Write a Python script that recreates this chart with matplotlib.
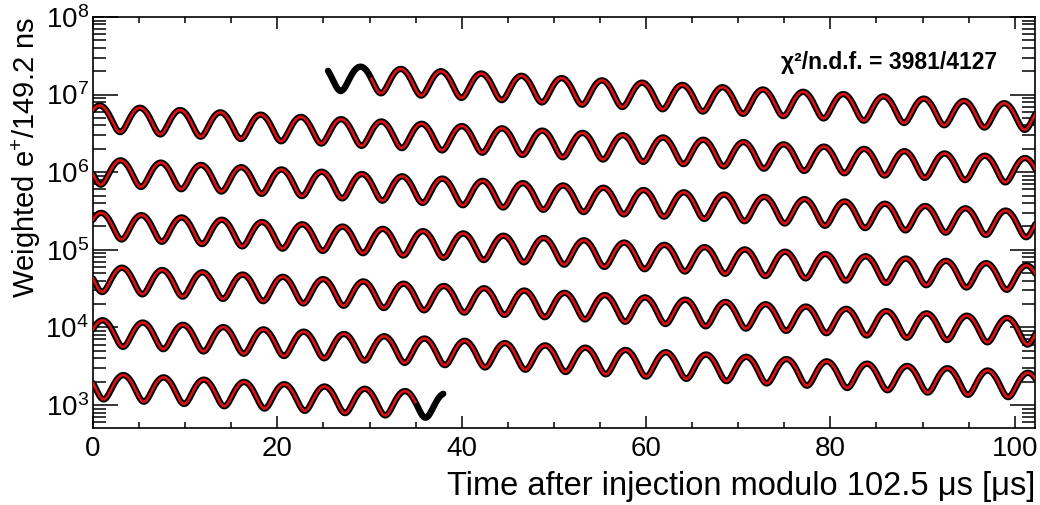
import numpy as np
import matplotlib
matplotlib.use("Agg")
import matplotlib.pyplot as plt
from matplotlib.ticker import MultipleLocator, LogLocator, NullFormatter

plt.rcParams['font.family'] = ['Liberation Sans', 'DejaVu Sans']
plt.rcParams['mathtext.fontset'] = 'custom'
plt.rcParams['mathtext.rm'] = 'Liberation Sans'
plt.rcParams['mathtext.it'] = 'Liberation Sans:italic'
plt.rcParams['mathtext.bf'] = 'Liberation Sans:bold'

# ======================== VALUES ========================
WRAP_US = 102.5                  # time modulo
N_WRAPS = 7                      # number of rows
DATA_RANGE_US = [25.5, 653.0]    # black points
FIT_RANGE_US = [30.2, 650.0]     # red fit curve
BIN_US = 0.1492

# five-parameter wiggle fit, parameters
N0 = 2.64e7
TAU_US = 64.4
ASYM = 0.36
PERIOD_US = 4.365
PEAK_FRAC = 0.655                # phase of maximum within one g-2 period

CHI2_TEXT = "χ²/n.d.f. = 3981/4127"
XLABEL = "Time after injection modulo 102.5 μs [μs]"
YLABEL = "Weighted e$^{+}$/149.2 ns"


def wiggle(t):
    phase = 2 * np.pi * (t / PERIOD_US - PEAK_FRAC)
    return N0 * np.exp(-t / TAU_US) * (1 + ASYM * np.cos(phase))


fig = plt.figure(figsize=(10.4, 5.05), dpi=100)
ax = fig.add_axes([0.0894, 0.1525, 0.9058, 0.8139])

t_data = np.arange(DATA_RANGE_US[0], DATA_RANGE_US[1], BIN_US / 4)
t_fit = np.arange(FIT_RANGE_US[0], FIT_RANGE_US[1], BIN_US / 4)

for k in range(N_WRAPS):
    lo, hi = k * WRAP_US, (k + 1) * WRAP_US
    m = (t_data >= lo) & (t_data < hi)
    if m.any():
        ax.plot(t_data[m] - lo, wiggle(t_data[m]), color='black', lw=4.6,
                solid_capstyle='round', zorder=2)
    m = (t_fit >= lo) & (t_fit < hi)
    if m.any():
        ax.plot(t_fit[m] - lo, wiggle(t_fit[m]), color='#dd1111', lw=1.9, zorder=3)

ax.set_yscale('log')
ax.set_xlim(0, 102.2)
ax.set_ylim(5.06e2, 1.0e8)

ax.xaxis.set_major_locator(MultipleLocator(20))
ax.xaxis.set_minor_locator(MultipleLocator(5))
ax.yaxis.set_major_locator(LogLocator(base=10, numticks=20))
ax.yaxis.set_minor_locator(LogLocator(base=10, subs=np.arange(2, 10), numticks=50))
ax.yaxis.set_minor_formatter(NullFormatter())

ax.tick_params(which='both', direction='in', top=True, right=True, width=1.1,
               labelsize=20)
ax.tick_params(axis='x', which='major', length=8.6, pad=6)
ax.tick_params(axis='x', which='minor', length=4.3)
ax.tick_params(axis='y', which='major', length=18, pad=3)
ax.tick_params(axis='y', which='minor', length=9.4)
for s in ax.spines.values():
    s.set_linewidth(1.2)

ax.set_xlabel(XLABEL, fontsize=23.5, loc='right')
ax.xaxis.set_label_coords(1.0, -0.104)
ax.set_ylabel(YLABEL, fontsize=21, loc='top')
ax.yaxis.set_label_coords(-0.053, 1.0)

ax.text(0.96, 0.89, CHI2_TEXT, transform=ax.transAxes, ha='right', va='center',
        fontsize=16.5, fontweight='bold')

fig.savefig("out.png", dpi=100)
